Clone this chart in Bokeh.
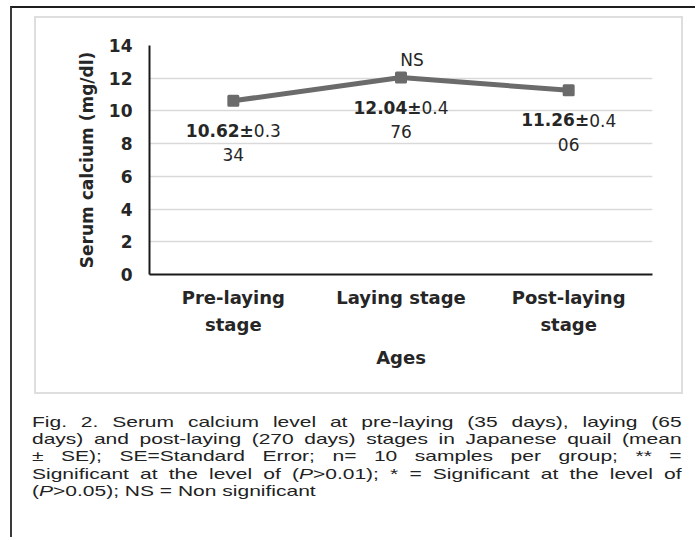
from bokeh.plotting import figure
from bokeh.models import Range1d, FactorRange, FixedTicker, Div
from bokeh.layouts import column
from bokeh.embed import file_html
from bokeh.resources import INLINE
from bokeh.core.properties import value

# ---- data ----
stages = ["Pre-laying\nstage", "Laying stage", "Post-laying\nstage"]
means = [10.62, 12.04, 11.26]
se = [0.334, 0.476, 0.406]
significance = ["", "NS", ""]
y_ticks = [0, 2, 4, 6, 8, 10, 12, 14]
y_title = "Serum calcium (mg/dl)"
x_title = "Ages"
caption_lines = [
    "Fig. 2. Serum calcium level at pre-laying (35 days), laying (65",
    "days) and post-laying (270 days) stages in Japanese quail (mean",
    "\u00b1 SE); SE=Standard Error; n= 10 samples per group; ** =",
    "Significant at the level of (<i>P</i>&gt;0.01); * = Significant at the level of",
    "(<i>P</i>&gt;0.05); NS = Non significant",
]

FONT = "DejaVu Sans"
TXT = "#262626"

p = figure(x_range=FactorRange(*stages), y_range=Range1d(0, 14),
           width=645, height=374, output_backend="svg", toolbar_location=None,
           min_border_left=113, min_border_right=29, min_border_top=27, min_border_bottom=118)
p.outline_line_color = None
p.background_fill_color = "white"
p.border_fill_color = "white"

# y axis
p.yaxis.ticker = FixedTicker(ticks=y_ticks)
p.yaxis.major_tick_line_color = None
p.yaxis.minor_tick_line_color = None
p.yaxis.major_tick_out = 0
p.yaxis.major_tick_in = 0
p.yaxis.axis_line_color = "#1a1a1a"
p.yaxis.axis_line_width = 2
p.yaxis.major_label_text_font = FONT
p.yaxis.major_label_text_font_size = "17px"
p.yaxis.major_label_text_font_style = "bold"
p.yaxis.major_label_text_color = TXT
p.yaxis.major_label_standoff = 17
p.yaxis.axis_label = y_title
p.yaxis.axis_label_text_font = FONT
p.yaxis.axis_label_text_font_size = "17px"
p.yaxis.axis_label_text_font_style = "bold"
p.yaxis.axis_label_text_color = TXT
p.yaxis.axis_label_standoff = 9

# x axis
p.xaxis.major_tick_line_color = None
p.xaxis.minor_tick_line_color = None
p.xaxis.major_tick_out = 0
p.xaxis.major_tick_in = 0
p.xaxis.axis_line_color = "#1a1a1a"
p.xaxis.axis_line_width = 2
p.xaxis.major_label_text_font = FONT
p.xaxis.major_label_text_font_size = "18px"
p.xaxis.major_label_text_font_style = "bold"
p.xaxis.major_label_text_color = TXT
p.xaxis.major_label_text_line_height = 1.3
p.xaxis.major_label_standoff = 12
p.xaxis.axis_label = x_title
p.xaxis.axis_label_text_font = FONT
p.xaxis.axis_label_text_font_size = "18px"
p.xaxis.axis_label_text_font_style = "bold"
p.xaxis.axis_label_text_color = TXT
p.xaxis.axis_label_standoff = 9

p.xgrid.grid_line_color = None
p.ygrid.grid_line_color = "#d9d9d9"
p.ygrid.grid_line_width = 1.5

# series
p.line(stages, means, line_width=5, line_color="#6b6b6b")
p.scatter(stages, means, marker="square", size=9, fill_color="#6b6b6b",
          line_color="#6b6b6b", line_width=3, line_join="round")

# value labels
bold_parts = [f"{m:.2f}\u00b1" for m in means]
se_str = [f"{s:.3f}" for s in se]
se_head = [s[:3] for s in se_str]
se_tail = [s[3:] for s in se_str]

common = dict(text_font=value(FONT), text_font_size="17px", text_color=TXT, text_baseline="middle")
p.text(x=stages, y=means, text=bold_parts, x_offset=20.5, y_offset=30,
       text_align="right", text_font_style="bold", **common)
p.text(x=stages, y=means, text=se_head, x_offset=20.5, y_offset=30,
       text_align="left", **common)
p.text(x=stages, y=means, text=se_tail, x_offset=0, y_offset=54,
       text_align="center", **common)

sig_x = [s for s, g in zip(stages, significance) if g]
sig_y = [m for m, g in zip(means, significance) if g]
sig_t = [g for g in significance if g]
p.text(x=sig_x, y=sig_y, text=sig_t, x_offset=11, y_offset=-18,
       text_align="center", **common)

# light inner frame around the chart
inner = column(p, margin=(8, 12, 0, 22), styles={"border": "2px solid #dedede"})

# caption
rows = []
for i, line in enumerate(caption_lines):
    last = i == len(caption_lines) - 1
    align = "left" if last else "justify"
    rows.append(f'<div style="text-align:{align};text-align-last:{align};">{line}</div>')
cap_html = ('<div style="font-family:\'Liberation Sans\',Arial,sans-serif;font-size:15px;'
            'line-height:17.2px;color:#222;width:464px;">' + "".join(rows) + "</div>")
cap = Div(text=cap_html, width=464, height=124, margin=(19, 0, 0, 20),
          styles={"transform": "scaleX(1.4)", "transform-origin": "0 0"})

layout = column(inner, cap, margin=(6, 0, 0, 10),
                styles={"border-top": "2px solid #1e1e1e", "border-left": "2px solid #3a3a3a"})

open("out.html", "w").write(file_html(layout, INLINE))
